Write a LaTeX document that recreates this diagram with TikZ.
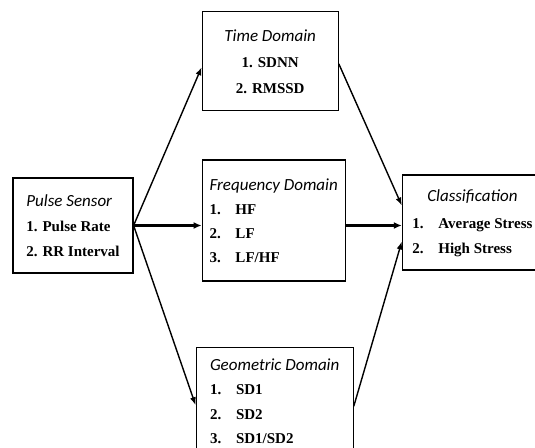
\documentclass[tikz,border=0pt]{standalone}
\usepackage{fontspec}
\setmainfont{Liberation Serif}
\newfontfamily\titlefont{Carlito}
\usepackage{tikz}
\usetikzlibrary{arrows.meta, positioning}
\tikzstyle{box} = [rectangle, draw=black, line width=1.2pt, inner sep=0pt,
    font=\bfseries\fontsize{15}{25}\selectfont]
\tikzstyle{arrow} = [line width=1.4pt, -{Latex[length=8pt,width=6pt]}]
\tikzstyle{boldarrow} = [line width=2.2pt, -{Latex[length=8pt,width=7pt]}]
\newcommand{\ttl}[1]{{\titlefont\itshape\mdseries\fontsize{17}{25}\selectfont #1}}
\newcommand{\itm}[2]{\makebox[26pt][l]{#1}#2}

\begin{document}
\begin{tikzpicture}[x=1pt, y=1pt]
  \clip (0,0) rectangle (535,447);
  \useasboundingbox (0,0) rectangle (535,447);

  \node (pulse) [box, minimum width=120pt, minimum height=95pt, align=left] at (73,221.5)
    {\ttl{Pulse Sensor}\\ 1. Pulse Rate\\ 2. RR Interval};
  \node (freq)  [box, minimum width=143pt, minimum height=121pt, align=left,
    font=\bfseries\fontsize{15}{24}\selectfont, right=68pt of pulse, yshift=5pt]
    {\ttl{Frequency Domain}\\ \itm{1.}{HF}\\ \itm{2.}{LF}\\ \itm{3.}{LF/HF}};
  \node (time)  [box, minimum width=136pt, minimum height=99pt, align=center,
    font=\bfseries\fontsize{15}{26}\selectfont,
    above=48pt of freq.north west, anchor=south west]
    {\ttl{Time Domain}\\ 1. SDNN\\ 2. RMSSD};
  \node (geo)   [box, minimum width=157pt, minimum height=108pt, align=left,
    font=\bfseries\fontsize{15}{24.5}\selectfont,
    below=65pt of freq.south west, anchor=north west, xshift=-6pt]
    {\ttl{Geometric Domain}\\ \itm{1.}{SD1}\\ \itm{2.}{SD2}\\ \itm{3.}{SD1/SD2}};
  \node (class) [box, minimum width=140pt, minimum height=95pt, right=56pt of freq, yshift=-2pt]
    {\begin{tabular}{@{}l@{}}
       \multicolumn{1}{@{}c@{}}{\ttl{Classification}}\\[2pt]
       \itm{1.}{Average Stress}\\
       \itm{2.}{High Stress}
     \end{tabular}};

  \draw[arrow] (pulse.east) -- ([yshift=-6pt]time.west);
  \draw[boldarrow] (pulse.east) -- (pulse.east -| freq.west);
  \draw[arrow] (pulse.east) -- ([yshift=-4pt]geo.west);
  \draw[arrow] ([yshift=-2.5pt]time.east) -- ([yshift=17pt]class.west);
  \draw[boldarrow] (freq.east |- pulse.east) -- (pulse.east -| class.west);
  \draw[arrow] ([yshift=-5pt]geo.east) -- ([yshift=-19pt]class.west);
\end{tikzpicture}
\end{document}
